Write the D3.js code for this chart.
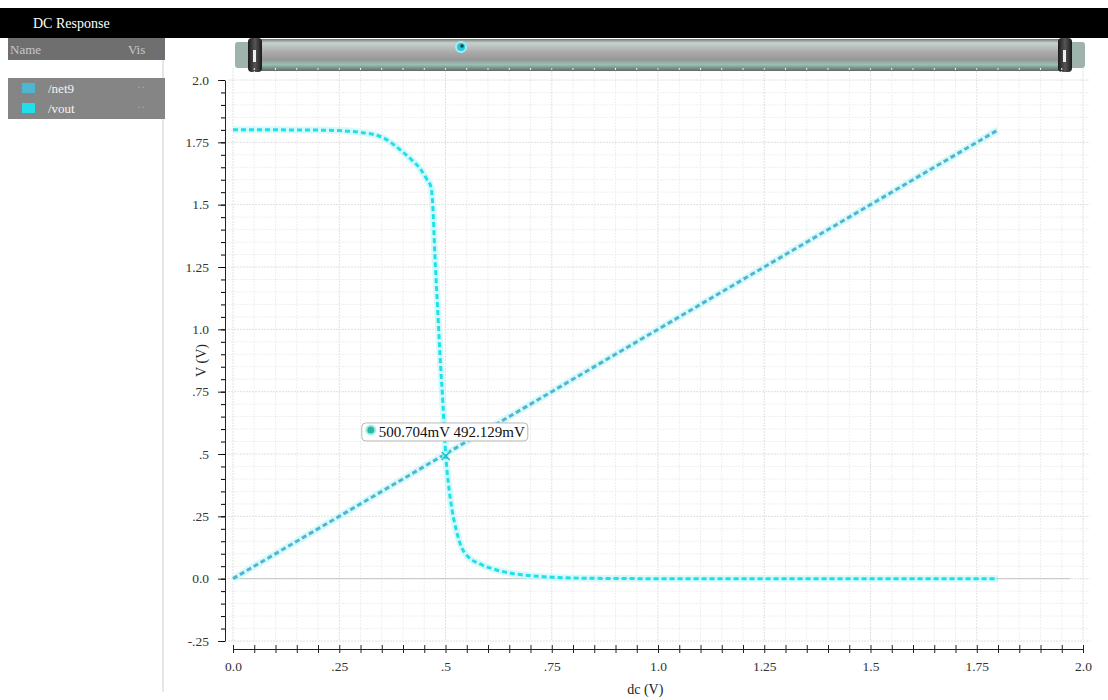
<!DOCTYPE html>
<html>
<head>
<meta charset="utf-8">
<script src="https://cdn.jsdelivr.net/npm/d3@7"></script>
<style>
  body { margin: 0; background: #fff; }
  svg { display: block; font-family: "Liberation Serif", "DejaVu Serif", serif; }
</style>
</head>
<body>
<div id="root"></div>
<script>
// sweep values
const dcSweep = [0, 0.1, 0.2, 0.25, 0.3, 0.35, 0.39, 0.42, 0.44, 0.455, 0.466, 0.47, 0.475, 0.481, 0.487, 0.494, 0.5007, 0.507, 0.515, 0.526, 0.538, 0.552, 0.58, 0.62, 0.66, 0.7, 0.75, 0.82, 1.0, 1.2, 1.4, 1.6, 1.8];
const voutValues = [1.8, 1.8, 1.799, 1.797, 1.79, 1.771, 1.725, 1.68, 1.645, 1.605, 1.57, 1.5, 1.3, 1.1, 0.9, 0.7, 0.492, 0.38, 0.28, 0.19, 0.125, 0.09, 0.06, 0.035, 0.02, 0.012, 0.006, 0.002, 0, 0, 0, 0, 0];
const net9Sweep = [0, 0.3, 0.6, 0.9, 1.2, 1.5, 1.8];
const net9Values = [0, 0.3, 0.6, 0.9, 1.2, 1.5, 1.8];

const xTicks = [0, 0.25, 0.5, 0.75, 1.0, 1.25, 1.5, 1.75, 2.0];
const xTickLabels = ['0.0', '.25', '.5', '.75', '1.0', '1.25', '1.5', '1.75', '2.0'];
const yTicks = [-0.25, 0, 0.25, 0.5, 0.75, 1.0, 1.25, 1.5, 1.75, 2.0];
const yTickLabels = ['-.25', '0.0', '.25', '.5', '.75', '1.0', '1.25', '1.5', '1.75', '2.0'];

const signals = ['/net9', '/vout'];
const signalColors = ['#4fb6d2', '#1fe0ea'];

const markerPoint = [0.500704, 0.492129];
const markerText = '500.704mV 492.129mV';

const W = 1108, H = 700;
const svg = d3.select('#root').append('svg').attr('width', W).attr('height', H);

const defs = svg.append('defs');
const grad = defs.append('linearGradient').attr('id', 'bar').attr('x1', 0).attr('x2', 0).attr('y1', 0).attr('y2', 1);
[['0%', '#6f7876'], ['12%', '#c6d2ce'], ['40%', '#acacac'], ['65%', '#969696'], ['80%', '#98c2b6'], ['100%', '#666']]
  .forEach(([o, c]) => grad.append('stop').attr('offset', o).attr('stop-color', c));
const knob = defs.append('linearGradient').attr('id', 'knob').attr('x1', 0).attr('x2', 1);
[['0%', '#1a1a1a'], ['50%', '#555'], ['100%', '#1a1a1a']]
  .forEach(([o, c]) => knob.append('stop').attr('offset', o).attr('stop-color', c));

// window header
svg.append('rect').attr('x', 0).attr('y', 8).attr('width', W).attr('height', 30).attr('fill', '#000');
svg.append('text').attr('x', 33).attr('y', 28).attr('fill', '#fff').attr('font-size', 14).text('DC Response');

// left browser panel
svg.append('rect').attr('x', 8).attr('y', 38).attr('width', 157).attr('height', 22).attr('fill', '#6f6f6f');
svg.append('text').attr('x', 10).attr('y', 54).attr('fill', '#c8c8c8').attr('font-size', 13).text('Name');
svg.append('text').attr('x', 128).attr('y', 54).attr('fill', '#c8c8c8').attr('font-size', 13).text('Vis');
svg.append('line').attr('x1', 163).attr('x2', 163).attr('y1', 60).attr('y2', 692).attr('stroke', '#cfcfcf');

const legend = svg.append('g');
legend.append('rect').attr('x', 8).attr('y', 78).attr('width', 157).attr('height', 41).attr('fill', '#858585');
signals.forEach((s, i) => {
  const yy = 88 + i * 20;
  legend.append('rect').attr('x', 22).attr('y', yy - 5).attr('width', 13).attr('height', 10).attr('fill', signalColors[i]);
  legend.append('text').attr('x', 48).attr('y', yy + 5).attr('fill', '#f4f4f4').attr('font-size', 13).text(s);
  legend.append('text').attr('x', 137).attr('y', yy + 3).attr('fill', '#c9a27a').attr('font-size', 12).text('··');
});

// zoom slider
svg.append('rect').attr('x', 235).attr('y', 42).attr('width', 850).attr('height', 26).attr('rx', 3).attr('fill', '#9fb3ad');
svg.append('rect').attr('x', 254).attr('y', 39).attr('width', 810).attr('height', 32).attr('fill', 'url(#bar)');
svg.append('rect').attr('x', 248).attr('y', 38).attr('width', 14).attr('height', 34).attr('rx', 4).attr('fill', 'url(#knob)');
svg.append('rect').attr('x', 1058).attr('y', 38).attr('width', 14).attr('height', 34).attr('rx', 4).attr('fill', 'url(#knob)');
svg.append('rect').attr('x', 253).attr('y', 50).attr('width', 3).attr('height', 12).attr('fill', '#eee');
svg.append('rect').attr('x', 1063).attr('y', 50).attr('width', 3).attr('height', 12).attr('fill', '#eee');
svg.append('circle').attr('cx', 461).attr('cy', 47).attr('r', 5).attr('fill', '#28c8d8').attr('stroke', '#9eeff5').attr('stroke-width', 2);
svg.append('circle').attr('cx', 462).attr('cy', 46).attr('r', 1.8).attr('fill', '#0b4650');

// scales
const x = d3.scaleLinear().domain([0, 2]).range([233, 1083]);
const y = d3.scaleLinear().domain([-0.25, 2]).range([641, 80]);

// grid
const grid = svg.append('g');
const minorX = d3.range(0, 2.0001, 0.05);
const minorY = d3.range(-0.25, 2.0001, 0.05);
grid.selectAll('.gx').data(minorX).join('line')
  .attr('x1', d => x(d)).attr('x2', d => x(d)).attr('y1', 68).attr('y2', 641)
  .attr('stroke', (d, i) => (i % 5 === 0 ? '#e0e0e0' : '#efefef')).attr('stroke-dasharray', '2,1');
grid.selectAll('.gy').data(minorY).join('line')
  .attr('x1', 228).attr('x2', 1090).attr('y1', d => y(d)).attr('y2', d => y(d))
  .attr('stroke', (d, i) => (i % 5 === 0 ? '#e0e0e0' : '#efefef')).attr('stroke-dasharray', '2,1');
grid.append('line').attr('x1', x(0)).attr('x2', x(1.97)).attr('y1', y(0)).attr('y2', y(0)).attr('stroke', '#c4c4c4');

// axes
const yAxis = svg.append('g').attr('transform', 'translate(225,0)')
  .call(d3.axisLeft(y).tickValues(yTicks).tickSize(7).tickSizeOuter(0).tickPadding(9)
    .tickFormat((d, i) => yTickLabels[i]));
svg.append('g').attr('transform', 'translate(225,0)')
  .call(d3.axisLeft(y).tickValues(minorY).tickSize(4).tickSizeOuter(0).tickFormat(''))
  .select('.domain').remove();
const xAxis = svg.append('g').attr('transform', 'translate(0,649)')
  .call(d3.axisBottom(x).tickValues(minorX).tickSize(4).tickSizeOuter(0).tickPadding(8)
    .tickFormat(d => {
      const k = xTicks.findIndex(t => Math.abs(t - d) < 1e-6);
      return k >= 0 ? xTickLabels[k] : '';
    }));
xAxis.selectAll('.tick line').attr('y1', -4);
[yAxis, xAxis].forEach(a => {
  a.selectAll('text').attr('font-family', '"Liberation Serif", serif').attr('font-size', 13.5).attr('fill', '#333');
  a.selectAll('line,path').attr('stroke', '#222');
});

svg.append('text').attr('transform', `translate(206,${y(0.875)}) rotate(-90)`).attr('text-anchor', 'middle')
  .attr('font-size', 14).attr('fill', '#222').text('V (V)');
svg.append('text').attr('x', x(0.97)).attr('y', 694).attr('text-anchor', 'middle')
  .attr('font-size', 14).attr('fill', '#222').text('dc (V)');

// traces
const line = d3.line().x(d => x(d[0])).y(d => y(d[1])).curve(d3.curveMonotoneX);
const traces = [
  { pts: d3.zip(net9Sweep, net9Values), color: signalColors[0] },
  { pts: d3.zip(dcSweep, voutValues), color: signalColors[1] }
];
traces.forEach(t => {
  svg.append('path').attr('d', line(t.pts)).attr('fill', 'none')
    .attr('stroke', '#c6f6f8').attr('stroke-width', 7).attr('stroke-opacity', 0.7);
  svg.append('path').attr('d', line(t.pts)).attr('fill', 'none')
    .attr('stroke', t.color).attr('stroke-width', 3).attr('stroke-dasharray', '5,3');
});

// marker
const mx = x(markerPoint[0]), my = y(markerPoint[1]);
svg.append('path').attr('d', `M${mx - 4},${my - 4}L${mx + 4},${my + 4}M${mx - 4},${my + 4}L${mx + 4},${my - 4}`)
  .attr('stroke', '#1fbfcc').attr('stroke-width', 1.5);
const lab = svg.append('g').attr('transform', `translate(${mx - 84},${my - 33})`);
lab.append('rect').attr('width', 166).attr('height', 18).attr('rx', 4)
  .attr('fill', '#fff').attr('stroke', '#b9b9b9');
lab.append('circle').attr('cx', 9).attr('cy', 7).attr('r', 4.5).attr('fill', '#2bb7a8').attr('stroke', '#9ff0e8').attr('stroke-width', 2);
lab.append('text').attr('x', 17).attr('y', 14).attr('font-size', 14).attr('textLength', 146).attr('lengthAdjust', 'spacingAndGlyphs')
  .attr('fill', '#111').text(markerText);
</script>
</body>
</html>
